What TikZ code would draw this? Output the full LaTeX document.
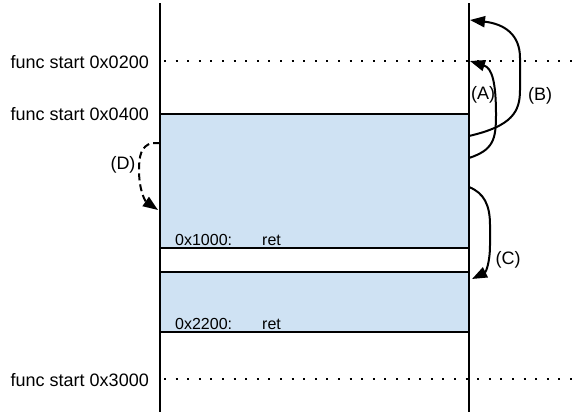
\documentclass[tikz,border=0pt]{standalone}
\usepackage{fontspec}
\setmainfont{Liberation Sans}
\usetikzlibrary{arrows.meta}
\definecolor{segfill}{HTML}{CFE2F3}
\tikzset{
  axis/.style={line width=2.2pt},
  boundary/.style={line width=2pt, dash pattern=on 2pt off 9.6pt},
  jump/.style={line width=2pt, -{Triangle[length=15pt,width=11pt]}},
  label/.style={font=\fontsize{18}{21}\selectfont, inner sep=0pt},
  code/.style={font=\fontsize{16}{19}\selectfont, inner sep=0pt, anchor=base west},
}
\begin{document}
\begin{tikzpicture}[x=1pt, y=-1pt]
  \useasboundingbox (0,0) rectangle (577,415);

  % code segments
  \fill[segfill] (160,114) rectangle (469,248);
  \fill[segfill] (160,272) rectangle (469,332);
  \draw[line width=1.8pt] (160,114) -- (469,114) (160,248) -- (469,248);
  \draw[line width=1.8pt] (160,272) -- (469,272) (160,332) -- (469,332);

  % function boundaries
  \draw[boundary] (164,61) -- (577,61);
  \draw[boundary] (164,379) -- (577,379);

  % address space borders
  \draw[axis] (160,3) -- (160,412);
  \draw[axis] (469,3) -- (469,412);

  % labels on the left
  \node[label, anchor=east] (f200) at (149,62) {func start 0x0200};
  \node[label, anchor=east] (f400) at (149,114) {func start 0x0400};
  \node[label, anchor=east] (f3000) at (149,380) {func start 0x3000};

  % instructions inside segments
  \node[code] (a1000) at (175,245) {0x1000:};
  \node[code] (r1000) at (262,245) {ret};
  \node[code] (a2200) at (175,329) {0x2200:};
  \node[code] (r2200) at (262,329) {ret};

  % jump endpoints on the borders
  \coordinate (aS) at (469,158);
  \coordinate (aT) at (470,61);
  \coordinate (bS) at (469,136);
  \coordinate (bT) at (470,20);
  \coordinate (cS) at (469,187);
  \coordinate (cT) at (472,279);
  \coordinate (dS) at (160,143);
  \coordinate (dT) at (158,210);

  % jumps
  \draw[jump] (aS) .. controls (493,150) and (496,140) .. (496,115)
              .. controls (496,82) and (492,68) .. (aT);
  \draw[jump] (bS) .. controls (512,126) and (520,112) .. (520,90)
              -- (520,58) .. controls (520,35) and (505,24) .. (bT);
  \draw[jump] (cS) .. controls (484,193) and (490,205) .. (490,225)
              -- (490,245) .. controls (490,262) and (486,272) .. (cT);
  \draw[jump, dash pattern=on 7pt off 4pt] (dS) -- (152,143)
              .. controls (141,146) and (139,156) .. (139,170)
              .. controls (139,190) and (145,201) .. (dT);

  % jump labels
  \node[label] (la) at (483,95) {(A)};
  \node[label] (lb) at (540,96) {(B)};
  \node[label] (lc) at (508,260) {(C)};
  \node[label] (ld) at (123,165) {(D)};
\end{tikzpicture}
\end{document}
